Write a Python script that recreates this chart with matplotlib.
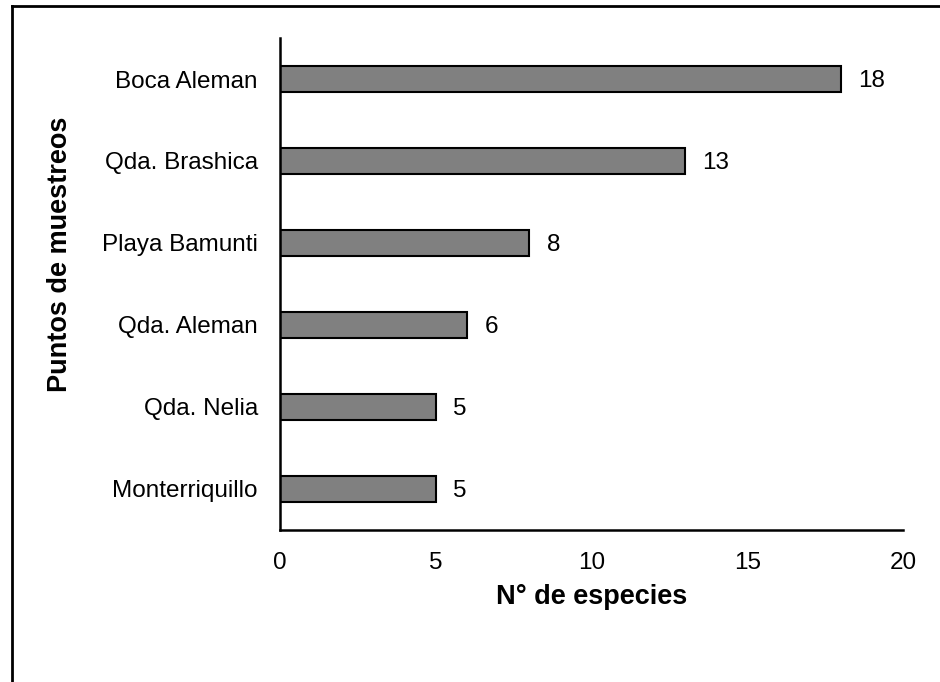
import matplotlib
matplotlib.use("Agg")
import matplotlib.pyplot as plt
from matplotlib.lines import Line2D

categories = ["Boca Aleman", "Qda. Brashica", "Playa Bamunti", "Qda. Aleman", "Qda. Nelia", "Monterriquillo"]
values = [18, 13, 8, 6, 5, 5]
xticks = [0, 5, 10, 15, 20]

plt.rcParams['font.family'] = ['Liberation Sans', 'DejaVu Sans']

W, H = 940, 682
fig = plt.figure(figsize=(W/100, H/100), dpi=100)
ax = fig.add_axes([280/W, 1-530/H, (903-280)/W, (530-38)/H])

pos = list(range(len(categories)))
ax.barh(pos, values, height=0.32, color="#808080", edgecolor="black", linewidth=1.5)
ax.set_ylim(len(categories)-0.5, -0.5)
ax.set_xlim(0, 20)
ax.set_yticks(pos)
ax.set_yticklabels(categories, fontsize=17.5)
ax.set_xticks(xticks)
ax.set_xticklabels([str(t) for t in xticks], fontsize=17.5)
ax.tick_params(axis='x', length=0, pad=16)
ax.tick_params(axis='y', length=0, pad=16)
for s in ["top", "right"]:
    ax.spines[s].set_visible(False)
for s in ["left", "bottom"]:
    ax.spines[s].set_linewidth(1.8)

for p, v in zip(pos, values):
    ax.annotate(str(v), (v, p), xytext=(12.5, -1.2), textcoords="offset points",
                va="center", ha="left", fontsize=17.5)

fig.text(592/W, 1-597/H, "N° de especies", fontsize=19.5, fontweight="bold",
         ha="center", va="center")
fig.text(60/W, 1-254/H, "Puntos de muestreos", fontsize=19.5, fontweight="bold",
         ha="center", va="center", rotation=90)

# outer frame (top and left visible)
fig.add_artist(Line2D([12/W, 12/W], [0, 1-6/H], color="black", linewidth=2, transform=fig.transFigure))
fig.add_artist(Line2D([12/W, 1], [1-6/H, 1-6/H], color="black", linewidth=2, transform=fig.transFigure))

fig.savefig("out.png", dpi=100)
